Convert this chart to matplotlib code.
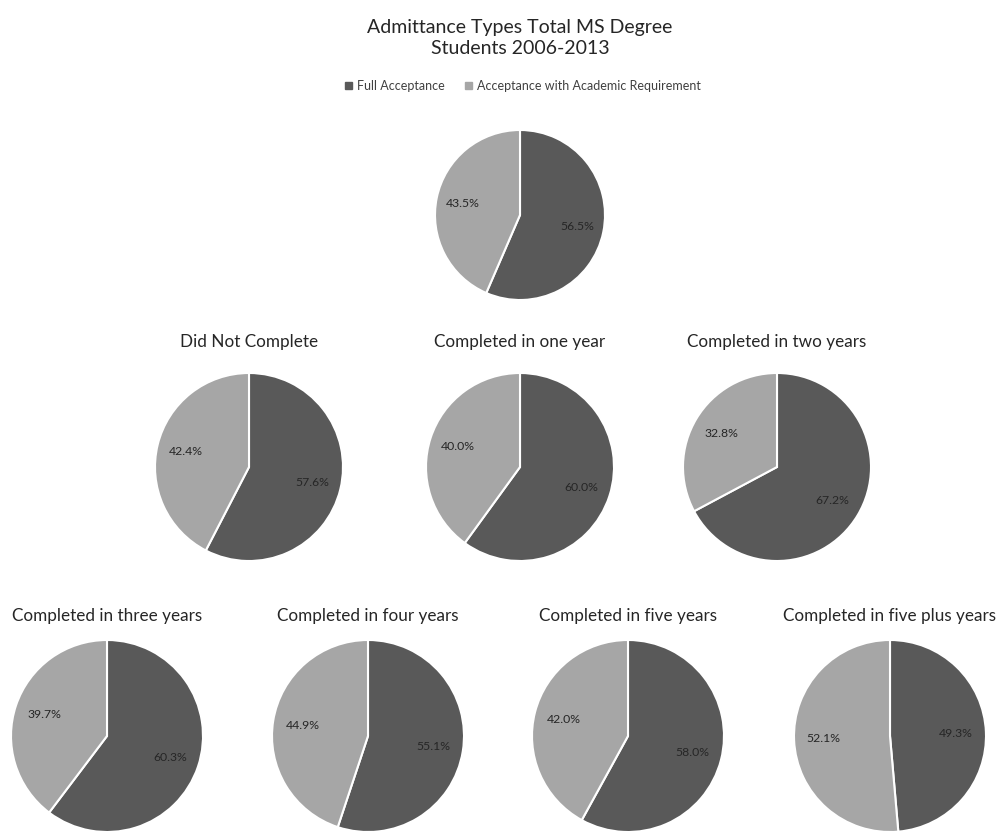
import matplotlib.pyplot as plt

plt.rcParams["font.family"] = ["Lato", "DejaVu Sans"]

# data
series = ["Full Acceptance", "Acceptance with Academic Requirement"]
overall_title = "Admittance Types Total MS Degree\nStudents 2006-2013"
overall = [56.5, 43.5]

groups = [
    "Did Not Complete",
    "Completed in one year",
    "Completed in two years",
    "Completed in three years",
    "Completed in four years",
    "Completed in five years",
    "Completed in five plus years",
]
full_acc = [57.6, 60.0, 67.2, 60.3, 55.1, 58.0, 49.3]
acad_req = [42.4, 40.0, 32.8, 39.7, 44.9, 42.0, 52.1]

colors = ["#595959", "#a6a6a6"]

W, H = 1004, 831
fig = plt.figure(figsize=(W / 100, H / 100), dpi=100)


def pie_at(cx, cy, r, vals):
    ax = fig.add_axes([(cx - r) / W, 1 - (cy + r) / H, 2 * r / W, 2 * r / H])
    ax.pie(
        vals,
        colors=colors,
        startangle=90,
        counterclock=False,
        labels=[f"{v:.1f}%" for v in vals],
        labeldistance=0.69,
        textprops=dict(fontsize=8.8, color="#262626", ha="center", va="center"),
        wedgeprops=dict(edgecolor="white", linewidth=1.5),
    )
    ax.set_xlim(-1, 1)
    ax.set_ylim(-1, 1)
    ax.set_aspect("equal")
    ax.axis("off")
    return ax


def ftext(x, y, s, **kw):
    fig.text(x / W, 1 - y / H, s, ha="center", va="center", color="#262626", **kw)


# top pie with title + legend
ftext(520, 38, overall_title, fontsize=14, linespacing=1.3)
ax0 = pie_at(520, 215, 85, overall)
handles = [plt.Rectangle((0, 0), 1, 1, color=c) for c in colors]
fig.legend(
    handles, series, loc="center", bbox_to_anchor=(523 / W, 1 - 86 / H),
    ncol=2, frameon=False, fontsize=9, handlelength=0.55, handleheight=0.55,
    columnspacing=1.6, handletextpad=0.4, labelcolor="#404040",
)

# row 2
row2 = [(249, 467), (520, 467), (777, 467)]
row2_title_y = 342
# row 3
row3 = [(107, 736), (368, 736), (628, 736), (890, 736)]
row3_title_y = 616

centers = row2 + row3
for i, name in enumerate(groups):
    cx, cy = centers[i]
    r = 94 if i < 3 else 96
    ty = row2_title_y if i < 3 else row3_title_y
    pie_at(cx, cy, r, [full_acc[i], acad_req[i]])
    ftext(cx, ty, name, fontsize=12.3)

fig.savefig("out.png", dpi=100, facecolor="white")
